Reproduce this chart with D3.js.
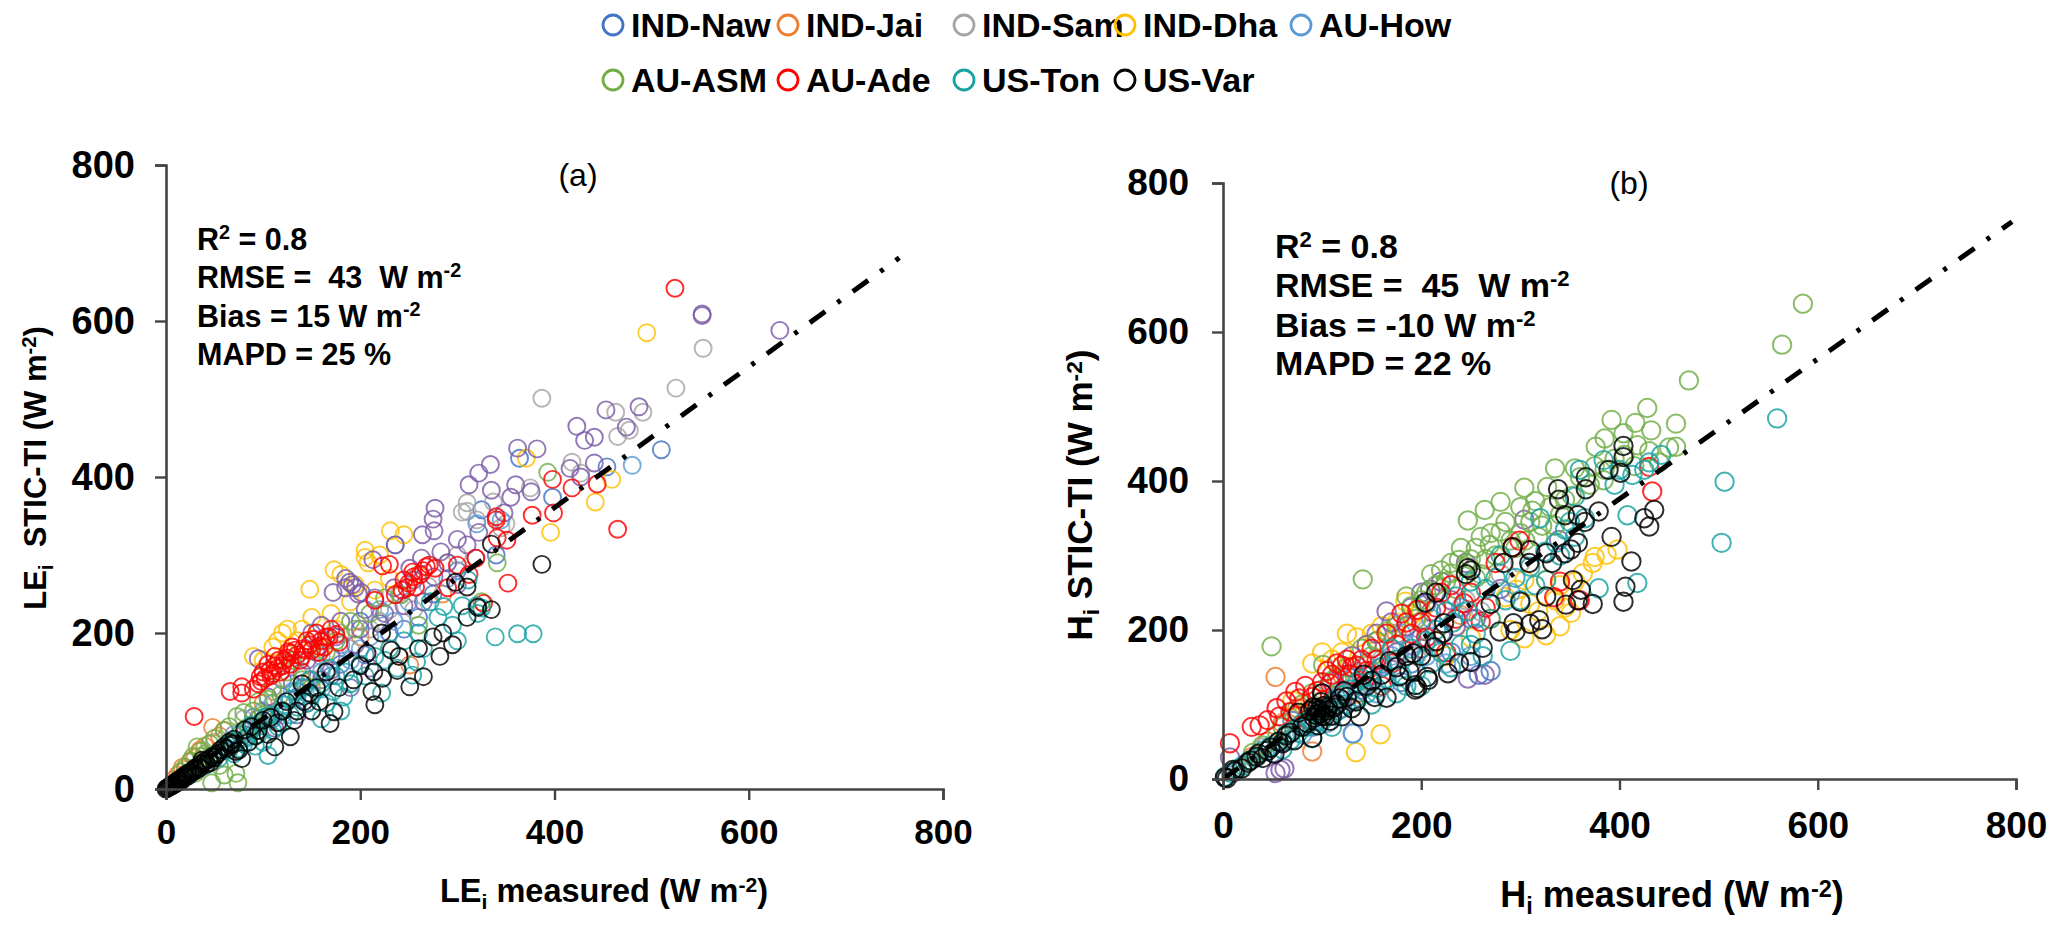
<!DOCTYPE html>
<html><head><meta charset="utf-8">
<script src="https://cdn.jsdelivr.net/npm/d3@7/dist/d3.min.js"></script>
<style>html,body{margin:0;padding:0;background:#fff}svg{display:block}text{font-family:"Liberation Sans",Arial,sans-serif}</style>
</head><body><svg id="c" width="2067" height="938"></svg>
<script>
const seriesNames=["IND-Naw","IND-Jai","IND-Sam","IND-Dha","AU-How","AU-ASM","AU-Ade","US-Ton","US-Var"];
const seriesColors=["#4472C4","#ED7D31","#A5A5A5","#FFC000","#5B9BD5","#70AD47","#FF0000","#17A2A2","#000000"];
const unlabelledColor="#7A5AA6";
const axisTicks=[0,200,400,600,800];

// Panel (a): [measured, modelled]
const leNaw=[[510,435],[364,424],[325,358],[398,374],[454,413],[236,313],[120,140],[90,92],[60,50],[180,160],[200,215],[150,120],[260,220],[300,280],[340,300],[230,200],[170,145],[135,118],[205,172],[245,205],[110,90],[275,250]];
const leJai=[[48,79],[30,40],[20,25],[12,18],[40,55],[60,75],[251,159],[150,140],[200,195],[100,110],[285,250],[8,12],[240,170],[17,28],[25,36],[35,50],[55,68],[260,275]];
const leSam=[[310,367],[310,356],[337,368],[375,386],[418,419],[427,405],[463,483],[491,483],[477,460],[465,452],[525,514],[553,565],[387,501],[240,250],[220,215],[180,200],[160,170],[130,160],[300,300],[270,260],[350,340],[80,90],[50,60],[345,335],[290,290],[305,355],[320,345],[190,180],[150,160],[110,125],[255,230],[230,230],[210,205]];
const leDha=[[495,585],[371,424],[459,397],[442,368],[396,329],[231,331],[245,326],[205,306],[205,297],[220,300],[173,281],[180,275],[148,256],[208,290],[90,170],[120,200],[115,190],[125,205],[100,165],[150,220],[135,190],[160,180],[175,205],[230,270],[190,240],[110,182],[140,205],[170,225],[195,262],[215,255]];
const leHow=[[480,415],[345,345],[160,150],[180,185],[140,130],[70,70],[110,110],[200,180],[220,230],[100,100],[250,240],[290,270],[130,125],[160,128],[190,165],[210,195],[235,215],[120,95],[85,75],[320,340]];
const leOther=[[552,609],[552,607],[453,486],[487,490],[474,464],[423,465],[431,447],[441,451],[362,437],[382,436],[334,416],[322,405],[312,390],[416,411],[441,418],[427,400],[360,390],[376,381],[355,374],[335,383],[348,354],[277,360],[275,346],[276,331],[264,326],[322,329],[236,313],[213,294],[283,304],[263,296],[310,313],[319,296],[251,283],[189,265],[195,258],[185,270],[172,252],[201,252],[276,272],[225,225],[245,235],[205,230],[180,215],[160,210],[150,200],[632,588],[95,167],[145,165],[130,135],[300,262],[265,240],[175,195],[160,140],[120,100],[112,78],[95,90],[210,155],[190,130],[135,95],[80,70],[170,170],[192,262],[198,250],[185,258],[215,245],[235,258],[255,268],[290,290],[300,320],[220,212],[200,205],[140,150],[155,175],[170,152],[195,185],[145,110],[105,118]];
const leAsm=[[393,406],[341,290],[242,249],[74,8],[47,8],[72,20],[32,54],[73,93],[118,121],[60,75],[40,45],[25,35],[20,28],[50,65],[85,80],[100,95],[150,130],[175,190],[190,215],[210,225],[225,245],[130,165],[260,210],[325,240],[55,30],[15,22],[35,48],[45,58],[65,80],[80,98],[95,112],[110,130],[125,150],[90,100],[105,115],[165,175],[140,140],[30,20],[28,42],[38,42],[60,18],[195,205]];
const leAde=[[524,642],[398,397],[418,386],[444,391],[465,333],[399,354],[377,351],[352,264],[340,349],[341,322],[351,319],[223,286],[319,296],[300,287],[271,287],[254,278],[250,264],[257,259],[215,242],[236,249],[29,93],[66,125],[78,131],[78,123],[97,144],[107,152],[116,165],[128,174],[141,180],[158,183],[90,128],[102,142],[110,148],[95,135],[120,158],[125,168],[135,172],[105,160],[112,170],[118,150],[130,182],[145,190],[150,178],[160,190],[165,195],[140,170],[155,200],[170,205],[327,238],[245,268],[262,275],[248,258],[268,285],[277,283],[340,345],[290,258],[312,275],[230,288],[100,150],[108,145],[115,155],[122,165],[128,160],[133,178],[138,165],[143,178],[148,185],[152,192],[158,175],[163,182],[168,195],[175,198],[178,188],[98,138],[112,158],[126,176],[255,272],[265,280],[243,255]];
const leTon=[[339,195],[362,199],[378,199],[258,163],[254,146],[286,234],[311,268],[272,240],[321,225],[222,123],[238,155],[265,180],[183,118],[105,43],[75,52],[92,55],[110,75],[128,95],[145,110],[160,135],[85,68],[65,50],[55,40],[40,30],[30,25],[20,15],[12,9],[100,60],[120,85],[175,145],[200,160],[215,170],[300,190],[320,235],[135,125],[160,90],[180,100],[90,80],[70,45],[50,42],[60,55],[68,62],[76,70],[82,65],[88,82],[95,70],[102,92],[108,95],[115,80],[122,108],[128,115],[135,105],[142,130],[150,120],[155,128],[165,110],[172,125],[185,150],[190,135],[205,145],[225,165],[230,180],[245,190],[260,200],[280,220],[295,210],[305,235],[325,232],[45,38],[35,30],[25,20],[72,60],[80,58],[98,85],[118,100],[148,140],[168,155]];
const leVar=[[387,288],[298,265],[310,259],[321,233],[335,314],[66,56],[78,39],[37,37],[81,76],[100,88],[128,67],[112,54],[124,112],[148,123],[169,84],[173,99],[215,108],[251,131],[265,144],[212,125],[214,150],[207,174],[232,178],[2,2],[4,4],[6,5],[8,7],[10,9],[12,11],[14,12],[16,14],[18,16],[20,18],[22,20],[25,22],[28,24],[30,27],[33,29],[36,32],[38,33],[40,36],[44,38],[48,42],[52,44],[56,50],[60,54],[65,60],[70,64],[75,50],[85,60],[95,75],[105,70],[115,85],[135,100],[140,135],[155,130],[150,100],[165,150],[285,200],[295,185],[310,220],[335,230],[200,158],[222,200],[240,170],[0,0],[1,1],[3,2],[5,3],[7,5],[9,6],[11,8],[13,10],[15,10],[17,12],[19,15],[23,17],[27,21],[31,24],[35,27],[72,48],[88,80],[92,68],[108,92],[120,100],[132,88],[142,112],[158,112],[178,130],[193,140],[223,142],[238,152],[260,180],[275,195],[282,170],[42,32],[46,34],[50,40],[54,46],[62,52],[68,58]];

// Panel (b)
const hNaw=[[131,61],[230,170],[110,105],[160,155],[90,70],[250,215],[60,50],[200,190],[270,145],[258,140],[180,130],[140,125],[70,78],[100,115],[130,135],[155,185],[205,235],[190,155],[220,195],[120,95]];
const hJai=[[90,37],[53,137],[75,95],[120,140],[30,30],[150,130],[200,175],[60,75],[240,220],[100,105],[135,115],[175,195],[90,90],[45,50]];
const hSam=[[65,60],[85,75],[120,115],[160,160],[205,200],[245,240],[280,275],[110,95],[180,180],[40,42],[145,155],[195,165],[225,225],[260,225],[300,290]];
const hDha=[[134,36],[159,60],[387,301],[398,308],[373,290],[363,276],[351,223],[345,230],[326,193],[304,189],[304,267],[326,267],[285,244],[184,238],[296,254],[375,298],[340,260],[318,225],[340,205],[150,195],[175,210],[120,170],[100,170],[135,190],[90,155],[270,215],[290,200],[70,105],[200,225],[225,165],[110,160],[160,205],[190,220],[215,185],[250,190],[355,265],[335,240],[310,235],[125,195],[145,180]];
const hHow=[[131,61],[250,165],[225,155],[190,180],[150,145],[120,120],[170,165],[95,85],[80,60],[290,250],[210,215],[50,35],[105,75],[135,110],[165,130],[205,165],[240,230],[180,195],[155,115]];
const hOther=[[7,29],[58,12],[53,8],[62,14],[304,348],[339,321],[264,140],[247,135],[209,254],[245,290],[220,265],[190,230],[170,210],[155,195],[130,165],[110,130],[175,170],[200,175],[230,240],[150,140],[120,105],[255,215],[280,255],[145,180],[165,225],[185,205],[210,225],[235,205],[100,115],[125,140],[200,250],[140,120],[160,150]];
const hAsm=[[49,178],[141,268],[101,153],[585,638],[564,583],[470,535],[428,498],[392,482],[416,478],[457,477],[432,468],[404,464],[385,457],[376,446],[457,446],[418,448],[335,417],[355,417],[304,391],[327,392],[315,373],[280,372],[264,361],[247,347],[384,401],[280,332],[269,314],[255,310],[238,294],[220,280],[230,276],[310,345],[322,340],[340,355],[300,330],[290,320],[275,300],[250,295],[205,250],[190,232],[175,205],[240,310],[260,275],[352,380],[370,395],[395,430],[150,165],[125,150],[100,120],[80,100],[60,70],[40,45],[300,365],[215,260],[200,240],[165,198],[115,135],[140,175],[230,290],[245,285],[260,325],[265,295],[285,345],[295,310],[312,360],[318,325],[330,365],[345,375],[360,405],[375,420],[385,415],[405,435],[415,420],[430,440],[440,425],[450,445],[225,265],[210,275],[235,255],[255,270],[270,330],[305,320],[335,340],[195,215],[185,245],[90,115],[70,90],[55,60],[30,35],[155,185]];
const hAde=[[7,48],[29,70],[37,72],[45,79],[54,95],[57,84],[64,104],[77,108],[73,117],[83,125],[90,110],[100,130],[110,140],[120,152],[130,150],[140,160],[105,145],[115,155],[125,160],[292,311],[299,320],[334,244],[243,236],[260,211],[196,227],[180,222],[430,419],[433,386],[150,175],[165,195],[185,210],[215,230],[205,190],[225,170],[170,155],[85,80],[230,260],[275,290],[340,265],[360,240],[68,90],[95,118],[108,128],[128,140],[135,152],[145,145],[155,160],[175,180],[190,195],[200,210],[235,215],[250,250],[220,250],[160,125],[265,230]];
const hTon=[[559,484],[506,399],[503,317],[408,354],[418,263],[379,256],[290,172],[442,435],[384,428],[413,408],[425,415],[360,415],[355,379],[355,325],[326,267],[315,260],[336,317],[280,300],[265,255],[250,180],[262,165],[2,3],[8,8],[14,13],[20,18],[26,24],[32,28],[40,38],[48,44],[56,50],[64,60],[72,66],[80,75],[88,80],[96,90],[104,95],[112,105],[120,112],[130,120],[140,135],[150,130],[160,150],[175,160],[190,175],[205,185],[215,200],[232,210],[247,225],[60,40],[90,55],[150,100],[110,70],[175,115],[200,125],[230,150],[195,145],[320,350],[345,335],[300,240],[68,52],[76,62],[84,70],[92,72],[100,78],[108,85],[116,92],[124,100],[135,105],[145,115],[155,122],[165,135],[180,140],[185,125],[210,155],[220,170],[240,180],[255,195],[270,215],[285,240],[295,270],[310,285],[325,305],[340,300],[350,345],[365,350],[395,395],[400,415],[430,425],[250,265],[235,245],[275,270],[225,225],[170,175],[135,130]];
const hVar=[[404,447],[404,432],[389,415],[401,411],[366,405],[366,389],[338,389],[339,375],[345,354],[358,354],[379,359],[365,345],[435,361],[425,350],[430,339],[392,325],[358,317],[351,308],[345,303],[332,290],[310,307],[309,290],[292,311],[283,290],[326,303],[412,292],[406,258],[404,238],[373,235],[358,240],[346,234],[361,254],[353,267],[326,245],[300,238],[270,235],[319,213],[310,208],[322,201],[293,209],[295,198],[279,198],[262,176],[250,157],[227,142],[206,137],[194,126],[194,120],[223,209],[222,196],[215,250],[204,237],[247,283],[250,280],[245,275],[213,177],[192,169],[2,2],[4,1],[19,14],[34,30],[52,34],[72,52],[90,55],[76,89],[98,88],[100,85],[95,95],[105,92],[102,98],[92,82],[110,85],[100,115],[120,84],[138,84],[165,109],[153,110],[196,122],[207,133],[85,75],[115,100],[125,110],[145,125],[160,140],[175,150],[185,165],[130,95],[60,48],[45,38],[25,22],[12,10],[40,28],[68,62],[80,70],[108,78],[118,108],[96,72],[88,92],[97,92],[103,84],[94,86],[106,96],[99,103],[91,96],[112,96],[122,118],[134,104],[142,140],[150,132],[168,158],[178,138],[188,145],[200,165],[215,185],[238,155],[28,25],[36,34],[48,42],[56,50],[64,58],[10,12]];

const svg=d3.select("#c");
const panels=[
 {x0:166,x1:943,y0:789,y1:165,fsX:35,fsY:38,xp:19,yp:20,lab:"(a)",lx:578,ly:186,data:[leNaw,leJai,leSam,leDha,leHow,leAsm,leAde,leTon,leVar],other:leOther,
  line:[[0,0],[755,681]],r:8.5,sw:1.9,
  notes:{x:197,ys:[250,288,327,365],fs:30.5,t:[["R","2"," = 0.8"],["RMSE =  43  W m","-2",""],["Bias = 15 W m","-2",""],["MAPD = 25 %","",""]]},
  xt:{x:604,y:902,base:"LE",rest:" measured (W m",fs:32.5},yt:{x:46,y:468,base:"LE",rest:"  STIC-TI (W m",fs:31}},
 {x0:1223,x1:2016,y0:779,y1:183,fsX:37,fsY:37,xp:22,yp:23,lab:"(b)",lx:1629,ly:194,data:[hNaw,hJai,hSam,hDha,hHow,hAsm,hAde,hTon,hVar],other:hOther,
  line:[[0,0],[796,748]],r:9.2,sw:2.0,
  notes:{x:1275,ys:[258,297,337,375],fs:34,t:[["R","2"," = 0.8"],["RMSE =  45  W m","-2",""],["Bias = -10 W m","-2",""],["MAPD = 22 %","",""]]},
  xt:{x:1672,y:907,base:"H",rest:" measured (W m",fs:36},yt:{x:1092,y:495,base:"H",rest:" STIC-TI (W m",fs:35}}
];
panels.forEach(p=>{
 const x=d3.scaleLinear().domain([0,800]).range([p.x0,p.x1]);
 const y=d3.scaleLinear().domain([0,800]).range([p.y0,p.y1]);
 const g=svg.append("g");
 const order=[p.data[0],p.data[1],p.data[2],p.data[3],p.data[4],p.other,p.data[5],p.data[6],p.data[7],p.data[8]];
 const cols=[...seriesColors.slice(0,5),unlabelledColor,...seriesColors.slice(5)];
 order.forEach((s,i)=>{
  g.append("g").selectAll("circle").data(s).join("circle")
   .attr("cx",d=>x(d[0])).attr("cy",d=>y(d[1])).attr("r",p.r)
   .attr("fill","none").attr("stroke",cols[i]).attr("stroke-width",p.sw).attr("stroke-opacity",.82);
 });
 g.append("path").datum(p.line)
  .attr("d",d3.line().x(d=>x(d[0])).y(d=>y(d[1])))
  .attr("fill","none").attr("stroke","#000").attr("stroke-width",5).attr("stroke-dasharray","19 15 4 15");
 const ax=g.append("g").attr("transform",`translate(0,${p.y0})`).call(d3.axisBottom(x).tickValues(axisTicks).tickSize(11).tickPadding(p.xp));
 const ay=g.append("g").attr("transform",`translate(${p.x0},0)`).call(d3.axisLeft(y).tickValues(axisTicks).tickSize(11).tickPadding(p.yp));
 [[ax,p.fsX],[ay,p.fsY]].forEach(([a,fs])=>{
  a.select(".domain").attr("stroke","#444").attr("stroke-width",2.6);
  a.selectAll(".tick line").attr("stroke","#444").attr("stroke-width",2.4);
  a.selectAll("text").attr("font-family",'"Liberation Sans"').attr("font-size",fs).attr("font-weight",700).attr("fill","#000");
 });
 g.append("text").attr("x",p.lx).attr("y",p.ly).attr("text-anchor","middle").attr("font-size",32).text(p.lab);
 p.notes.t.forEach((t,i)=>{
  const tx=g.append("text").attr("x",p.notes.x).attr("y",p.notes.ys[i]).attr("font-size",p.notes.fs).attr("font-weight",700).style("white-space","pre");
  tx.append("tspan").text(t[0]);
  if(t[1])tx.append("tspan").attr("dy",-11).attr("font-size",p.notes.fs*.65).text(t[1]);
  if(t[2])tx.append("tspan").attr("dy",11).text(t[2]);
 });
 const title=(sel,o)=>{
  sel.attr("font-size",o.fs).attr("font-weight",700).attr("text-anchor","middle").style("white-space","pre");
  sel.append("tspan").text(o.base);
  sel.append("tspan").attr("dy",7).attr("font-size",o.fs*.65).text("i");
  sel.append("tspan").attr("dy",-7).text(o.rest);
  sel.append("tspan").attr("dy",-10).attr("font-size",o.fs*.65).text("-2");
  sel.append("tspan").attr("dy",10).text(")");
 };
 title(g.append("text").attr("x",p.xt.x).attr("y",p.xt.y),p.xt);
 title(g.append("text").attr("transform",`translate(${p.yt.x},${p.yt.y}) rotate(-90)`),p.yt);
});
// Legend
const legendX=[613,788,964,1125,1301,613,788,964,1125];
const legendY=[25,25,25,25,25,80,80,80,80];
const leg=svg.append("g").selectAll("g").data(seriesNames).join("g").attr("transform",(d,i)=>`translate(${legendX[i]},${legendY[i]})`);
leg.append("circle").attr("r",10).attr("fill","none").attr("stroke-width",2.8).attr("stroke",(d,i)=>seriesColors[i]);
leg.append("text").attr("x",18).attr("y",12).attr("font-size",34).attr("font-weight",700).text(d=>d);
</script></body></html>
